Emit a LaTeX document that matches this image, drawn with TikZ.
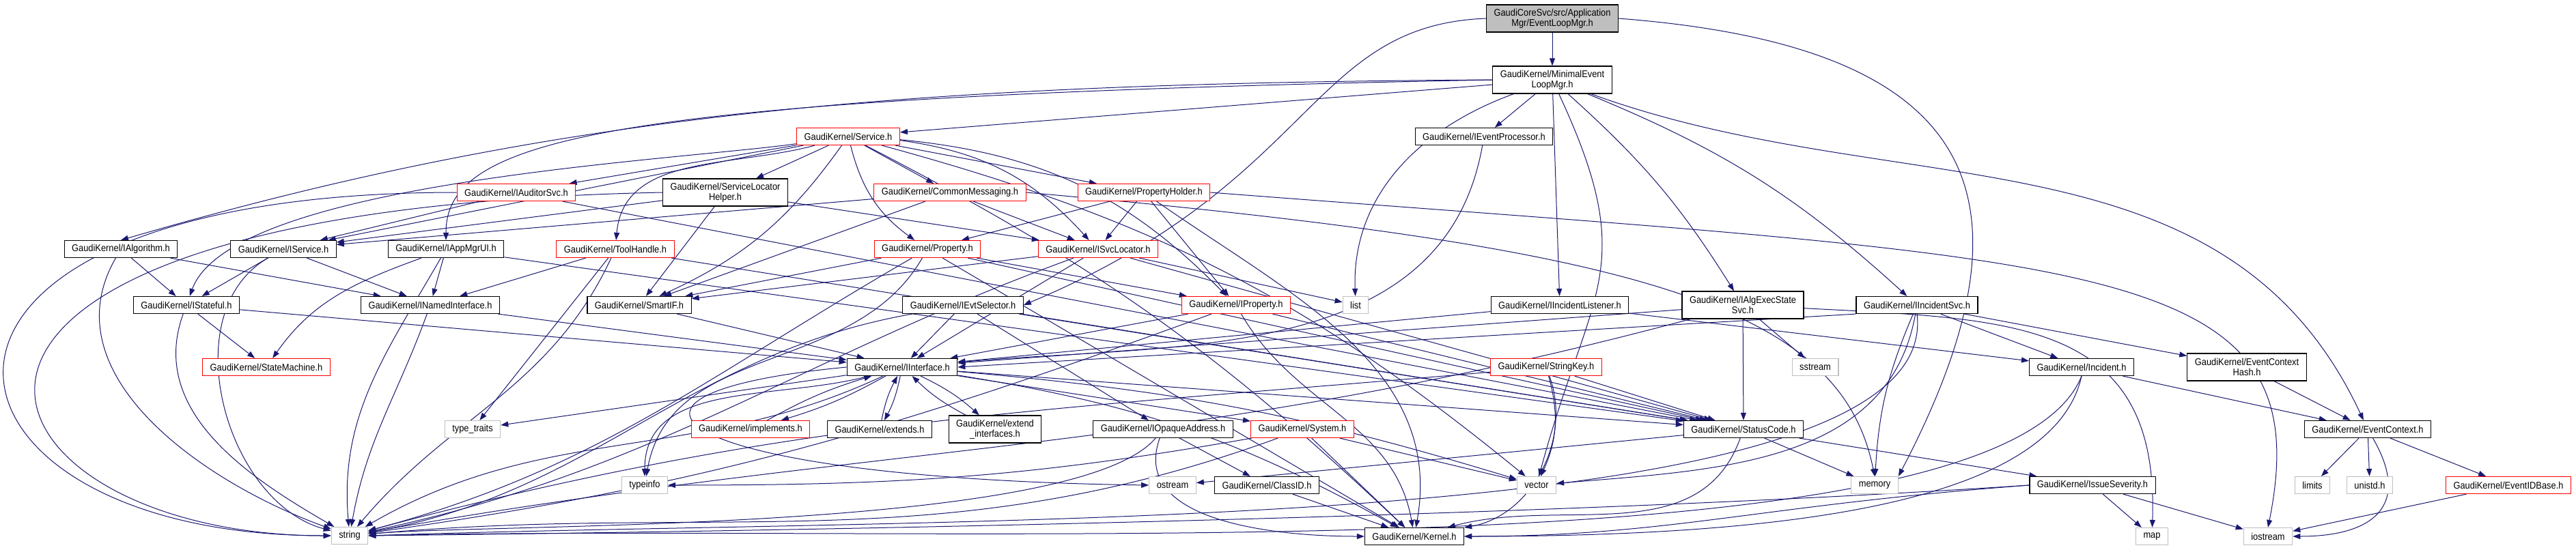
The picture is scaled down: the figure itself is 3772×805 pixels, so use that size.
\documentclass[tikz,border=0pt]{standalone}
\usepackage{fontspec}
\setmainfont{Liberation Sans}[FakeStretch=0.9]
\usepackage{tikz}
\usetikzlibrary{arrows.meta}
\definecolor{edgeblue}{HTML}{191970}
\definecolor{sysgray}{HTML}{BFBFBF}
\pgfdeclarelayer{edges}
\pgfsetlayers{edges,main}

\begin{document}
\begin{tikzpicture}[
    x=0.25pt, y=0.25pt,
    font=\fontsize{3.575}{3.75}\selectfont,
    hdr/.style={rectangle, draw=black, fill=white, line width=0.3pt, inner xsep=2.75pt, inner ysep=0pt, minimum height=6.25pt, align=center},
    trunc/.style={hdr, draw=red},
    sys/.style={hdr, draw=sysgray},
    topfile/.style={hdr, fill=sysgray},
    twoline/.style={minimum height=10pt},
    incl/.style={->, >={Triangle[length=2.75pt,width=2pt]}, draw=edgeblue, line width=0.25pt}
]
\useasboundingbox (0,0) rectangle (3772,-805);

% 头文件节点
\node[topfile, twoline] (EventLoopMgr) at (2273,-27) {GaudiCoreSvc/src/Application\\Mgr/EventLoopMgr.h};
\node[hdr, twoline] (MinimalEventLoopMgr) at (2273,-117) {GaudiKernel/MinimalEvent\\LoopMgr.h};
\node[trunc] (Service) at (1242,-200) {GaudiKernel/Service.h};
\node[hdr] (IEventProcessor) at (2173,-200) {GaudiKernel/IEventProcessor.h};
\node[trunc] (IAuditorSvc) at (756,-282) {GaudiKernel/IAuditorSvc.h};
\node[hdr, twoline] (ServiceLocatorHelper) at (1062,-282) {GaudiKernel/ServiceLocator\\Helper.h};
\node[trunc] (CommonMessaging) at (1391,-282) {GaudiKernel/CommonMessaging.h};
\node[trunc] (PropertyHolder) at (1675,-282) {GaudiKernel/PropertyHolder.h};
\node[hdr] (IAlgorithm) at (177,-365) {GaudiKernel/IAlgorithm.h};
\node[hdr] (IService) at (415,-365) {GaudiKernel/IService.h};
\node[hdr] (IAppMgrUI) at (653,-365) {GaudiKernel/IAppMgrUI.h};
\node[trunc] (ToolHandle) at (901,-365) {GaudiKernel/ToolHandle.h};
\node[trunc] (Property) at (1358,-365) {GaudiKernel/Property.h};
\node[trunc] (ISvcLocator) at (1608,-365) {GaudiKernel/ISvcLocator.h};
\node[hdr] (IStateful) at (273,-447) {GaudiKernel/IStateful.h};
\node[hdr] (INamedInterface) at (630,-447) {GaudiKernel/INamedInterface.h};
\node[hdr] (SmartIF) at (936,-447) {GaudiKernel/SmartIF.h};
\node[hdr] (IEvtSelector) at (1410,-447) {GaudiKernel/IEvtSelector.h};
\node[trunc] (IProperty) at (1810,-447) {GaudiKernel/IProperty.h};
\node[sys] (list) at (1985,-447) {list};
\node[hdr] (IIncidentListener) at (2284,-447) {GaudiKernel/IIncidentListener.h};
\node[hdr, twoline] (IAlgExecStateSvc) at (2552,-447) {GaudiKernel/IAlgExecState\\Svc.h};
\node[hdr] (IIncidentSvc) at (2807,-447) {GaudiKernel/IIncidentSvc.h};
\node[trunc] (StateMachine) at (390,-538) {GaudiKernel/StateMachine.h};
\node[hdr] (IInterface) at (1321,-538) {GaudiKernel/IInterface.h};
\node[trunc] (StringKey) at (2264,-538) {GaudiKernel/StringKey.h};
\node[sys] (sstream) at (2658,-538) {sstream};
\node[hdr] (Incident) at (3048,-538) {GaudiKernel/Incident.h};
\node[hdr, twoline] (EventContextHash) at (3290,-538) {GaudiKernel/EventContext\\Hash.h};
\node[sys] (typetraits) at (692,-629) {type\_traits};
\node[trunc] (implements) at (1099,-629) {GaudiKernel/implements.h};
\node[hdr] (extends) at (1288,-629) {GaudiKernel/extends.h};
\node[hdr, twoline] (extendinterfaces) at (1457,-629) {GaudiKernel/extend\\\_interfaces.h};
\node[hdr] (IOpaqueAddress) at (1703,-629) {GaudiKernel/IOpaqueAddress.h};
\node[trunc] (System) at (1907,-629) {GaudiKernel/System.h};
\node[hdr] (StatusCode) at (2553,-629) {GaudiKernel/StatusCode.h};
\node[hdr] (EventContext) at (3467,-629) {GaudiKernel/EventContext.h};
\node[sys] (typeinfo) at (944,-711) {typeinfo};
\node[sys] (ostream) at (1717,-711) {ostream};
\node[hdr] (ClassID) at (1855,-711) {GaudiKernel/ClassID.h};
\node[sys] (vector) at (2250,-711) {vector};
\node[sys] (memory) at (2745,-711) {memory};
\node[hdr] (IssueSeverity) at (3064,-711) {GaudiKernel/IssueSeverity.h};
\node[sys] (limits) at (3386,-711) {limits};
\node[sys] (unistd) at (3470,-711) {unistd.h};
\node[trunc] (EventIDBase) at (3673,-711) {GaudiKernel/EventIDBase.h};
\node[sys] (string) at (512,-785) {string};
\node[hdr] (Kernel) at (2071,-786) {GaudiKernel/Kernel.h};
\node[sys] (map) at (3151,-786) {map};
\node[sys] (iostream) at (3321,-786) {iostream};

% 包含关系
\begin{pgfonlayer}{edges}
\path (EventLoopMgr) edge[incl] (MinimalEventLoopMgr);
\draw[incl] (EventLoopMgr.west) .. controls +(-260,-10) and +(430,180) .. (IEvtSelector.east);
\draw[incl] (EventLoopMgr.east) .. controls +(520,-40) and +(220,420) .. (memory.north east);

\path (MinimalEventLoopMgr) edge[incl] (Service)
    edge[incl] (IEventProcessor)
    edge[incl] (IIncidentListener)
    edge[incl, bend left=8] (IAlgExecStateSvc)
    edge[incl, bend left=10] (IIncidentSvc)
    edge[incl, out=200, in=92] (list)
    edge[incl, out=-65, in=75, looseness=1.3] (vector)
    edge[incl, out=-20, in=115] (EventContext);
\draw[incl] (MinimalEventLoopMgr.west) .. controls +(-885,-5) and +(623,182) .. (IAlgorithm.north);
\draw[incl] (MinimalEventLoopMgr.west) .. controls +(-1300,-25) and +(0,150) .. (IAppMgrUI.north);

\path (Service) edge[incl] (IAuditorSvc)
    edge[incl] (IService)
    edge[incl] (ServiceLocatorHelper)
    edge[incl, out=195, in=85] (ToolHandle)
    edge[incl, bend left=15] (SmartIF)
    edge[incl, bend right=20] (Property)
    edge[incl] (CommonMessaging)
    edge[incl] (PropertyHolder)
    edge[incl, bend left=20] (ISvcLocator)
    edge[incl, bend left=20] (IProperty)
    edge[incl, bend left=12] (vector)
    edge[incl, bend left=8] (Kernel)
    edge[incl, out=188, in=70, looseness=0.5] (IStateful);

\path (IAuditorSvc) edge[incl] (IService) edge[incl] (StatusCode);
\draw[incl] (IAuditorSvc.west) .. controls +(-900,0) and +(-620,0) .. (string.west);

\path (ServiceLocatorHelper) edge[incl] (SmartIF) edge[incl] (IService) edge[incl] (ISvcLocator);
\draw[incl] (ServiceLocatorHelper.west) .. controls +(-1250,-25) and +(-540,0) .. (string.west);

\path (CommonMessaging) edge[incl] (ISvcLocator) edge[incl] (SmartIF) edge[incl] (IService);
\draw[incl] (CommonMessaging.east) .. controls +(900,-80) and +(-50,250) .. (memory.north);

\path (PropertyHolder) edge[incl] (Property) edge[incl] (ISvcLocator) edge[incl] (IProperty)
    edge[incl, out=-35, in=80] (Kernel);
\draw[incl] (PropertyHolder.east) .. controls +(1300,-100) and +(80,400) .. (iostream.north);

\path (ToolHandle) edge[incl] (INamedInterface) edge[incl] (typetraits)
    edge[incl, out=-115, in=50] (string) edge[incl] (StatusCode);

\path (Property) edge[incl] (SmartIF) edge[incl] (IProperty)
    edge[incl, out=-120, in=80] (typeinfo)
    edge[incl, out=-150, in=15] (string)
    edge[incl] (Kernel) edge[incl] (StatusCode);

\path (ISvcLocator) edge[incl] (list) edge[incl] (SmartIF) edge[incl] (IInterface)
    edge[incl, out=-160, in=12] (string) edge[incl] (StatusCode);

\path (IEvtSelector) edge[incl] (IInterface) edge[incl] (IOpaqueAddress) edge[incl] (StatusCode)
    edge[incl, out=-170, in=10] (string);

\path (IProperty) edge[incl] (IInterface) edge[incl] (StatusCode)
    edge[incl, out=-160, in=8] (string) edge[incl, out=-60, in=100] (Kernel);

\draw[incl] (IEventProcessor) to[out=-100, in=5] (IInterface);
\path (IIncidentListener) edge[incl] (IInterface) edge[incl] (Incident);

\path (IAlgExecStateSvc) edge[incl] (IInterface) edge[incl] (StatusCode) edge[incl] (sstream)
    edge[incl, out=-3, in=88, looseness=1.3] (map) edge[incl, out=-165, in=10] (string);

\draw[incl] (IIncidentSvc.south west) -- (IInterface.east);
\path (IIncidentSvc) edge[incl] (Incident) edge[incl] (EventContextHash)
    edge[incl, bend right=10] (memory) edge[incl, out=-100, in=5] (vector);
\draw[incl] (IIncidentSvc.south) .. controls +(40,-330) and +(900,30) .. (string.east);

\path (Incident) edge[incl] (EventContext);
\draw[incl] (Incident.south) .. controls +(-120,-300) and +(900,20) .. (string.east);
\draw[incl] (Incident.south) .. controls +(-40,-180) and +(500,0) .. (Kernel.east);

\path (EventContextHash) edge[incl] (EventContext);
\path (EventContext) edge[incl] (limits) edge[incl] (unistd) edge[incl] (EventIDBase)
    edge[incl, out=-60, in=0, looseness=1.6] (iostream);
\path (EventIDBase) edge[incl] (iostream);

\path (IssueSeverity) edge[incl] (map) edge[incl] (iostream);
\draw[incl] (IssueSeverity.west) .. controls +(-600,-40) and +(900,10) .. (string.east);
\draw[incl] (IssueSeverity.west) .. controls +(-400,-30) and +(300,0) .. (Kernel.east);

\path (StatusCode) edge[incl] (IssueSeverity) edge[incl] (memory)
    edge[incl, out=-110, in=15] (Kernel) edge[incl] (ostream);

\path (StringKey) edge[incl, bend left=20] (vector) edge[incl, out=-70, in=10] (Kernel)
    edge[incl, out=185, in=15] (string) edge[incl] (StatusCode);

\path (System) edge[incl] (Kernel) edge[incl] (vector)
    edge[incl, out=190, in=0] (typeinfo) edge[incl, out=200, in=5] (string);

\path (IOpaqueAddress) edge[incl] (ClassID) edge[incl, out=-110, in=180] (Kernel)
    edge[incl, out=-130, in=5, looseness=0.4] (string);
\path (ClassID) edge[incl] (Kernel);

\path (IInterface) edge[incl, bend left=6] (implements)
    edge[incl, bend left=8] (extends)
    edge[incl, bend left=8] (extendinterfaces)
    edge[incl] (StatusCode) edge[incl] (System)
    edge[incl, bend left=10] (Kernel) edge[incl, bend left=6] (vector)
    edge[incl] (typetraits) edge[incl, out=195, in=90] (typeinfo)
    edge[incl, out=205, in=30] (string);
\draw[incl] (IInterface.west) .. controls +(-420,-40) and +(-700,10) .. (ostream.west);
\path (implements) edge[incl, bend left=6] (IInterface);
\path (extends) edge[incl, bend left=8] (IInterface);
\path (extendinterfaces) edge[incl, bend left=8] (IInterface);

\path (SmartIF) edge[incl] (IInterface);
\path (IAppMgrUI) edge[incl] (INamedInterface) edge[incl, out=-160, in=55] (StateMachine)
    edge[incl, out=-120, in=95] (string) edge[incl] (StatusCode);
\path (IStateful) edge[incl] (StateMachine) edge[incl, out=-110, in=150] (string) edge[incl] (IInterface);
\path (INamedInterface) edge[incl] (IInterface) edge[incl, out=-110, in=80] (string);
\path (IAlgorithm) edge[incl] (IStateful) edge[incl] (INamedInterface) edge[incl, out=-120, in=160] (string);
\path (IService) edge[incl] (IStateful) edge[incl] (INamedInterface) edge[incl, out=-150, in=165] (string);
\end{pgfonlayer}

\end{tikzpicture}
\end{document}
